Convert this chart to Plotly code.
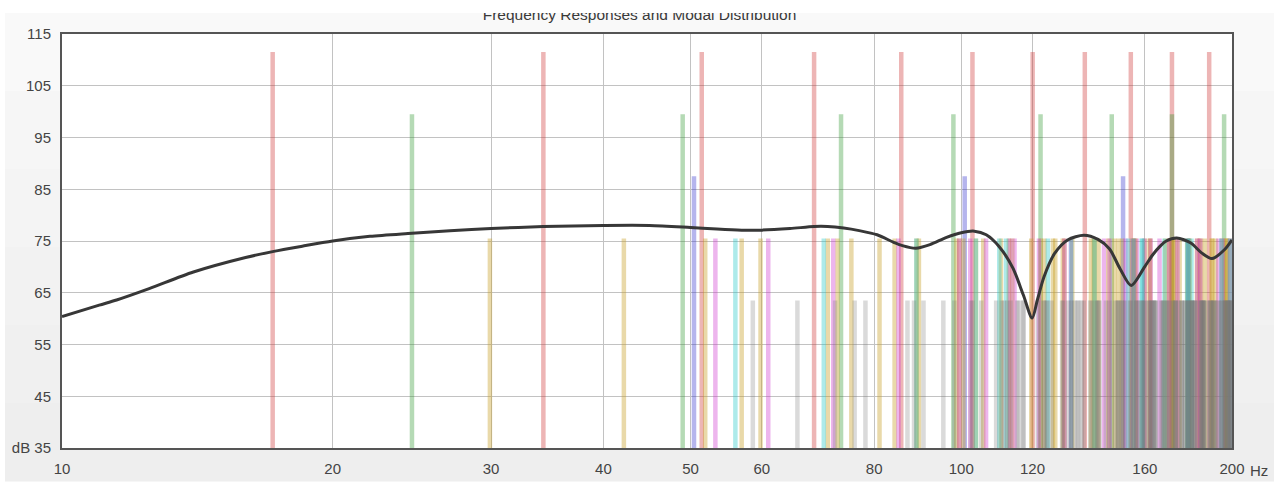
import math
import plotly.graph_objects as go

# ---------------- data ----------------
title_text = "Frequency Responses and Modal Distribution"

# axial modes
axial_length_hz = [17.15, 34.30, 51.45, 68.60, 85.75, 102.90, 120.05, 137.20, 154.35, 171.50, 188.65]
axial_width_hz = [24.50, 49.00, 73.50, 98.00, 122.50, 147.00, 171.50, 196.00]
axial_height_hz = [50.44, 100.88, 151.32]

# tangential modes
tangential_lw_hz = [29.91, 42.15, 56.99, 72.84, 89.18, 105.78, 122.53, 139.37, 156.28, 173.24, 190.23,
                    51.91, 59.81, 71.05, 84.30, 98.76, 113.97, 129.67, 145.69, 161.94, 178.36, 194.91,
                    75.47, 81.11, 89.72, 100.54, 112.94, 126.45, 140.76, 155.65, 170.96, 186.59,
                    99.49, 103.83, 110.69, 119.62, 130.22, 142.10, 154.97, 168.61, 182.83, 197.53,
                    123.70, 127.21, 132.87, 140.40, 149.53, 159.98, 171.52, 183.93, 197.05,
                    148.00, 150.95, 155.74, 162.22, 170.18, 179.44, 189.79,
                    172.36, 174.90, 179.05, 184.71, 191.74,
                    196.75, 198.98]
tangential_lh_hz = [53.28, 61.00, 72.05, 85.15, 99.49, 114.60, 130.22, 146.18, 162.38, 178.76, 195.28,
                    102.33, 106.55, 113.24, 122.00, 132.40, 144.10, 156.81, 170.30, 184.39, 198.97,
                    152.29, 155.16, 159.83, 166.14, 173.93, 182.99, 193.16]
tangential_wh_hz = [56.08, 70.32, 89.14, 110.22, 132.48, 155.41, 178.76,
                    103.81, 112.15, 124.82, 140.64, 158.69, 178.29, 198.97,
                    153.29, 159.06, 168.23, 180.28, 194.69]

# oblique modes
oblique_hz = [58.64, 65.73, 76.10, 88.60, 102.46, 117.19, 132.50, 148.22, 164.22, 180.43, 196.81,
              72.38, 78.24, 87.13, 98.24, 110.90, 124.63, 139.13, 154.17, 169.61, 185.36,
              90.78, 95.51, 102.93, 112.48, 123.69, 136.14, 149.53, 163.62, 178.24, 193.28,
              111.55, 115.43, 121.64, 129.82, 139.65, 150.79, 162.97, 175.99, 189.66,
              133.58, 136.85, 142.12, 149.19, 157.81, 167.75, 178.78, 190.72,
              156.36, 159.15, 163.71, 169.88, 177.50, 186.39, 196.38,
              179.58, 182.02, 186.02, 191.47, 198.27,
              105.22, 109.33, 115.86, 124.43, 134.65, 146.17, 158.71, 172.05, 186.01,
              113.45, 117.28, 123.39, 131.47, 141.18, 152.20, 164.29, 177.21, 190.79,
              125.99, 129.44, 135.00, 142.43, 151.43, 161.76, 173.18, 185.48, 198.50,
              141.69, 144.77, 149.76, 156.48, 164.72, 174.27, 184.91, 196.48,
              159.62, 162.36, 166.82, 172.88, 180.38, 189.13, 198.98,
              179.11, 181.56, 185.56, 191.03, 197.84,
              199.71,
              154.25, 157.08, 161.69, 167.94, 175.65, 184.63, 194.70,
              159.98, 162.71, 167.17, 173.22, 180.70, 189.44, 199.28,
              169.10, 171.69, 175.92, 181.68, 188.82, 197.20,
              181.10, 183.52, 187.48, 192.89, 199.64,
              195.44, 197.69]

# bar top level (dB) for each mode group
level_axial_length = 111.5
level_axial_width = 99.5
level_axial_height = 87.5
level_tangential = 75.5
level_oblique = 63.5

# frequency response curve
response_hz = [10, 11, 11.5, 12.5, 14, 16, 17.2, 18.5, 20, 22, 24.5, 27, 30, 34.3, 40, 45, 50, 53.5, 57,
               60, 64.5, 68.6, 71, 74, 77, 80.6, 84.2, 86, 89, 92.3, 96.3, 100, 103.4, 106.6, 110.2,
               114.1, 117.2, 119.9, 121.5, 123.6, 127, 131.3, 136.9, 141.9, 146.1, 150.2, 154.5,
               159.9, 163.2, 166.4, 169, 173.6, 180, 185, 190, 196.4, 200]
response_db = [60.4, 62.6, 63.6, 65.8, 69.0, 71.8, 73.0, 74.0, 75.0, 75.9, 76.5, 77.0, 77.4, 77.8, 78.0,
               78.0, 77.6, 77.3, 77.1, 77.1, 77.4, 77.8, 77.8, 77.5, 77.0, 76.2, 74.7, 74.1, 73.6,
               74.3, 75.7, 76.6, 76.9, 76.2, 73.9, 69.8, 64.6, 60.1, 63.6, 68.1, 72.6, 75.2, 76.1,
               75.3, 73.5, 69.6, 66.4, 70.0, 72.3, 74.0, 75.0, 75.6, 74.6, 72.7, 71.6, 73.4, 75.2]

x_tick_vals = [10, 20, 30, 40, 50, 60, 80, 100, 120, 160, 200]
x_tick_text = ["10", "20", "30", "40", "50", "60", "80", "100", "120", "160", "200"]
x_unit = "Hz"
y_tick_vals = [35, 45, 55, 65, 75, 85, 95, 105, 115]
y_tick_text = ["dB 35", "45", "55", "65", "75", "85", "95", "105", "115"]

# ---------------- styling / layout ----------------
W, H = 1274, 483
ML, MR, MT, MB = 62, 42, 13, 35
PLOT_H = H - MT - MB
MAIN_TOP_PX = 34
dom_top = (H - MB - MAIN_TOP_PX) / PLOT_H
FONT = "Liberation Sans, Arial, sans-serif"

groups = [
    (axial_length_hz, level_axial_length, "rgba(204,51,51,0.36)"),
    (axial_width_hz, level_axial_width, "rgba(51,153,51,0.36)"),
    (axial_height_hz, level_axial_height, "rgba(51,51,204,0.36)"),
    (tangential_lw_hz, level_tangential, "rgba(200,160,40,0.40)"),
    (tangential_lh_hz, level_tangential, "rgba(204,51,204,0.36)"),
    (tangential_wh_hz, level_tangential, "rgba(40,200,200,0.38)"),
    (oblique_hz, level_oblique, "rgba(120,120,120,0.27)"),
]

shapes = []
# light grey panel behind everything (soft vertical gradient)
panel_top_px, panel_bot_px = 13, 481
bands = ["#f9f9f9", "#f6f6f6", "#f4f4f4", "#f2f2f2", "#f0f0f0", "#eeeeee"]
band_h = (panel_bot_px - panel_top_px) / len(bands)
for i, col in enumerate(bands):
    top = panel_top_px + i * band_h
    bot = top + band_h + 0.5
    shapes.append(dict(type="rect", xref="paper", yref="paper", layer="below",
                       x0=(5 - ML) / (W - ML - MR), x1=(W - ML) / (W - ML - MR),
                       y0=(H - MB - bot) / PLOT_H, y1=(H - MB - top) / PLOT_H,
                       fillcolor=col, line=dict(width=0)))
# white plot area
shapes.append(dict(type="rect", xref="paper", yref="paper", layer="below",
                   x0=0, x1=1, y0=0, y1=dom_top, fillcolor="white", line=dict(width=0)))

# modal distribution bars
for freqs, level, color in groups:
    for f in freqs:
        shapes.append(dict(type="line", xref="x", yref="y", layer="between",
                           x0=f, x1=f, y0=35, y1=level,
                           line=dict(color=color, width=4.5)))

fig = go.Figure()
fig.add_trace(go.Scatter(x=response_hz, y=response_db, mode="lines",
                         line=dict(color="#373737", width=3, shape="spline", smoothing=0.8),
                         hoverinfo="skip", xaxis="x", yaxis="y"))

# title (top part hidden like in the reference)
title_center_px = 639.5
title_anchor_px = 16.3
fig.add_trace(go.Scatter(x=[(title_center_px - ML) / (W - ML - MR)],
                         y=[H - MB - title_anchor_px], mode="text", text=[title_text],
                         textposition="middle center", cliponaxis=True,
                         textfont=dict(family=FONT, size=15.5, color="#3a3a3a"),
                         hoverinfo="skip", xaxis="x2", yaxis="y2"))

axis_font = dict(family=FONT, size=15, color="#444444")
fig.update_layout(
    width=W, height=H,
    margin=dict(l=ML, r=MR, t=MT, b=MB, pad=0, autoexpand=False),
    paper_bgcolor="white",
    plot_bgcolor="rgba(0,0,0,0)",
    showlegend=False,
    shapes=shapes,
    xaxis=dict(type="log", range=[1, math.log10(200)], domain=[0, 1], anchor="y",
               tickmode="array", tickvals=x_tick_vals, ticktext=x_tick_text,
               showgrid=True, gridcolor="#c2c2c2", gridwidth=1.3, zeroline=False,
               showline=True, linecolor="#555555", linewidth=2, mirror=True,
               ticks="outside", ticklen=6, tickcolor="rgba(0,0,0,0)", automargin=False,
               tickfont=axis_font, fixedrange=True),
    yaxis=dict(range=[35, 115], domain=[0, dom_top], anchor="x",
               tickmode="array", tickvals=y_tick_vals, ticktext=y_tick_text,
               showgrid=True, gridcolor="#c2c2c2", gridwidth=1.3, zeroline=False,
               showline=True, linecolor="#555555", linewidth=2, mirror=True,
               ticks="outside", ticklen=6, tickcolor="rgba(0,0,0,0)", automargin=False,
               tickfont=axis_font, fixedrange=True),
    xaxis2=dict(domain=[0, 1], range=[0, 1], anchor="y2", visible=False, fixedrange=True),
    yaxis2=dict(domain=[0, 1], range=[0, PLOT_H], anchor="x2", visible=False, fixedrange=True),
    annotations=[dict(xref="paper", yref="paper", x=(1259 - ML) / (W - ML - MR),
                      y=-22 / PLOT_H, text=x_unit, showarrow=False,
                      xanchor="center", yanchor="middle", font=axis_font)],
)

fig.write_html(
    "out.html",
    config={"displayModeBar": False},
    post_script=("document.documentElement.style.margin='0';"
                 "document.body.style.margin='0';document.body.style.padding='0';"
                 "document.documentElement.style.overflow='hidden';"
                 "document.body.style.overflow='hidden';"),
)
